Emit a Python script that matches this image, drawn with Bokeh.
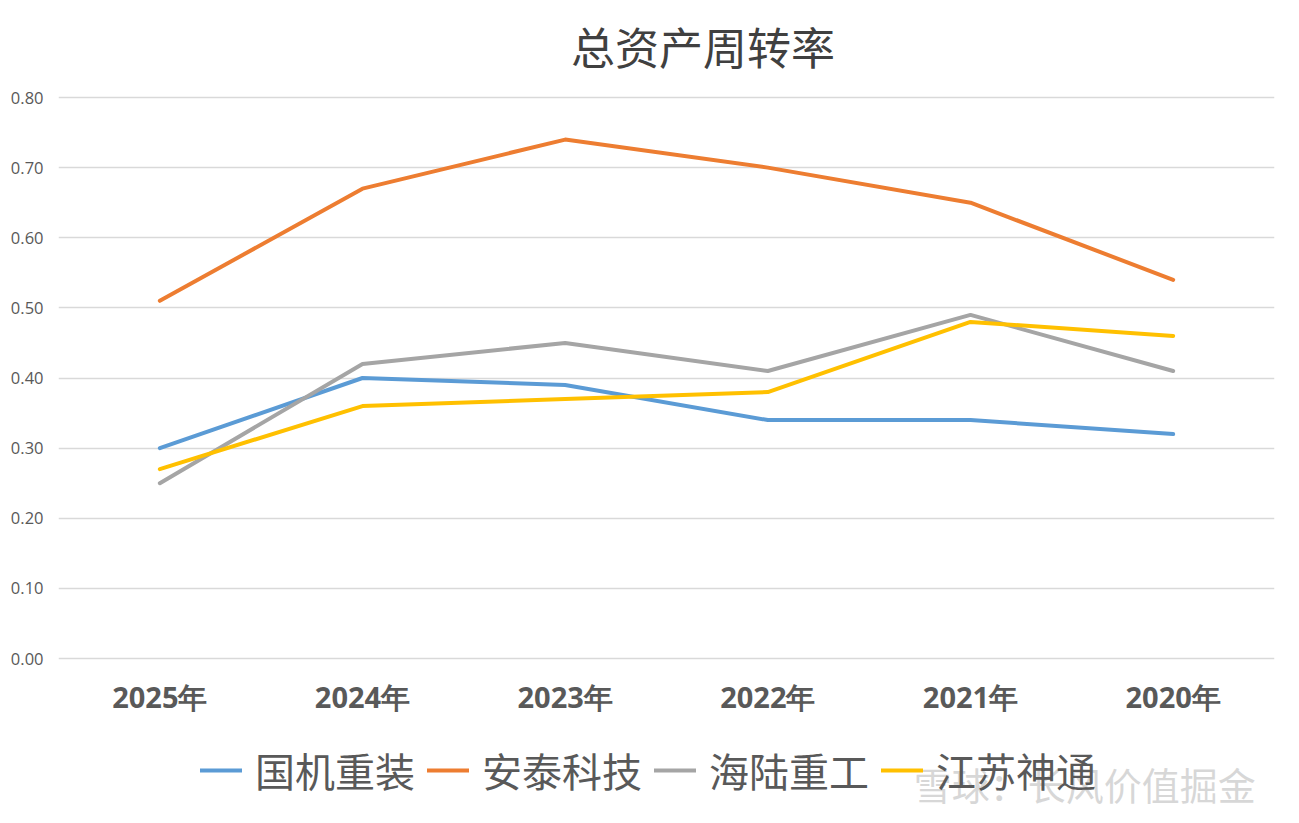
from bokeh.plotting import figure
from bokeh.models import Legend, LegendItem, Label, FactorRange, Range1d, NumeralTickFormatter, FixedTicker
from bokeh.embed import file_html
from bokeh.resources import INLINE

years = ["2025年", "2024年", "2023年", "2022年", "2021年", "2020年"]
names = ["国机重装", "安泰科技", "海陆重工", "江苏神通"]
guoji = [0.30, 0.40, 0.39, 0.34, 0.34, 0.32]
antai = [0.51, 0.67, 0.74, 0.70, 0.65, 0.54]
hailu = [0.25, 0.42, 0.45, 0.41, 0.49, 0.41]
shentong = [0.27, 0.36, 0.37, 0.38, 0.48, 0.46]
series = [guoji, antai, hailu, shentong]
colors = ["#5B9BD5", "#ED7D31", "#A5A5A5", "#FFC000"]
y_ticks = [0.0, 0.1, 0.2, 0.3, 0.4, 0.5, 0.6, 0.7, 0.8]
title_text = "总资产周转率"
watermark = "雪球：长风价值掘金"

# frame spans the full height; the value axis 0..0.8 occupies the middle part
W, H = 1290, 815
top_px, zero_px, bottom_px = 97, 658, H
per_px = 0.8 / (zero_px - top_px)
y_end = 0.8 + top_px * per_px
y_start = -(bottom_px - zero_px) * per_px

p = figure(width=W, height=H, x_range=FactorRange(*years), y_range=Range1d(y_start, y_end),
           output_backend="svg", toolbar_location=None,
           min_border_left=58, min_border_right=16, min_border_top=0, min_border_bottom=0)
p.outline_line_color = None
p.background_fill_color = "white"
p.border_fill_color = "white"

renderers = []
for vals, c in zip(series, colors):
    r = p.line(years, vals, line_color=c, line_width=4, line_cap="round", line_join="round")
    renderers.append(r)

# axes
p.xaxis.fixed_location = 0
p.xaxis.axis_line_color = None
p.xaxis.major_tick_line_color = None
p.xaxis.minor_tick_line_color = None
p.xaxis.major_label_text_font = "Open Sans"
p.xaxis.major_label_text_font_style = "bold"
p.xaxis.major_label_text_font_size = "29px"
p.xaxis.major_label_text_color = "#595959"
p.xaxis.major_label_standoff = 12
p.xgrid.grid_line_color = None

p.yaxis.axis_line_color = None
p.yaxis.major_tick_line_color = None
p.yaxis.minor_tick_line_color = None
p.yaxis.ticker = FixedTicker(ticks=y_ticks)
p.yaxis.formatter = NumeralTickFormatter(format="0.00")
p.yaxis.major_label_text_font = "Open Sans"
p.yaxis.major_label_text_font_size = "16.5px"
p.yaxis.major_label_text_color = "#595959"
p.yaxis.major_label_standoff = 9
p.ygrid.grid_line_color = "#D9D9D9"
p.ygrid.grid_line_width = 1.5

# title
p.add_layout(Label(x=3.18, y=0.8 + 52 * per_px, text=title_text, text_align="center",
                   text_baseline="middle", text_font="Noto Sans CJK SC", text_font_size="44px",
                   text_color="#404040"))

# legend
items = [LegendItem(label=n, renderers=[r]) for n, r in zip(names, renderers)]
legend = Legend(items=items, orientation="horizontal", location=(142, 16),
                glyph_width=42, glyph_height=42, label_standoff=13, spacing=12,
                label_text_font="Noto Sans CJK SC", label_text_font_size="40px",
                label_text_color="#595959", label_height=42,
                padding=0, margin=0, border_line_color=None, background_fill_alpha=0)
p.add_layout(legend, "center")

# watermark
p.add_layout(Label(x=4.22, y=-125 * per_px, text=watermark, text_align="left",
                   text_baseline="middle", text_font="Noto Sans CJK SC", text_font_size="38px",
                   text_color="#BDBDBD", text_alpha=0.6))

open("out.html", "w").write(file_html(p, INLINE))
